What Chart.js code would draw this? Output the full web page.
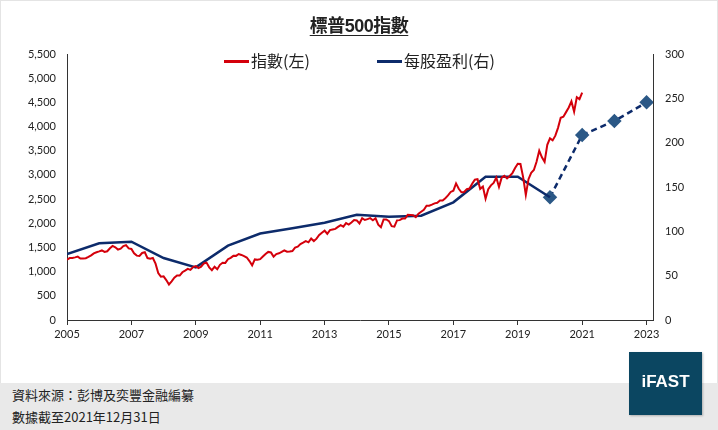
<!DOCTYPE html>
<html>
<head>
<meta charset="utf-8">
<script src="https://cdn.jsdelivr.net/npm/chart.js@4.4.1/dist/chart.umd.min.js"></script>
<style>
  body { margin: 0; width: 718px; height: 430px; overflow: hidden; background: #fff; position: relative;
         font-family: "Liberation Sans", "Noto Sans CJK TC", sans-serif; color: #222; }
  #frame { position: absolute; left: 0; top: 0; width: 716px; height: 428px; border: 1px solid #e4e4e4; border-bottom: none; }
  #title { position: absolute; left: 0; width: 718px; top: 11px; text-align: center; font-size: 18px; font-weight: bold;
           text-decoration: underline; text-underline-offset: 3px; letter-spacing: -0.5px; }
  #chartBox { position: absolute; left: 0; top: 0; width: 718px; height: 383px; }
  .leg { position: absolute; top: 50px; font-size: 16px; line-height: 20px; font-family: "Noto Sans CJK TC", sans-serif; }
  .leg i { display: inline-block; width: 25px; height: 3px; vertical-align: middle; margin-right: 2px; position: relative; top: -1px; }
  #footer { position: absolute; left: 0; top: 383px; width: 718px; height: 47px; background: #e9e9e9;
            font-family: "Noto Sans CJK TC", sans-serif; font-size: 13px; }
  #footer div { position: absolute; left: 12px; }
  #logo { position: absolute; left: 629px; top: 352px; width: 73px; height: 63px; background: #0b4661;
          color: #fff; font-family: "Liberation Sans", Arial, sans-serif; font-weight: bold; font-size: 17px;
          text-align: center; line-height: 60px; box-shadow: 1px 1px 2px rgba(0,0,0,0.25); }
</style>
</head>
<body>
<div id="frame"></div>
<div id="chartBox"><canvas id="spxChart" width="718" height="383"></canvas></div>
<div id="title">標普500指數</div>
<div class="leg" style="left:224px"><i style="background:#d4000b"></i>指數(左)</div>
<div class="leg" style="left:377px"><i style="background:#0d2b6b"></i>每股盈利(右)</div>
<div id="footer">
  <div style="top:2px">資料來源：彭博及奕豐金融編纂</div>
  <div style="top:24px">數據截至2021年12月31日</div>
</div>
<div id="logo">iFAST</div>
<script>
// S&P 500 index (left axis), month-end levels Dec 2005 .. Dec 2021.
// The first point sits on the "2005" tick, one point per month after that.
const SPX_START = 2005;
const spxMonthly = [
  1248,
  1280, 1281, 1295, 1311, 1270, 1270, 1277, 1304, 1336, 1378, 1401, 1418,
  1438, 1407, 1421, 1482, 1531, 1503, 1455, 1474, 1527, 1549, 1481, 1468,
  1379, 1331, 1323, 1386, 1400, 1280, 1267, 1283, 1166, 969, 896, 903,
  826, 735, 798, 873, 919, 919, 987, 1021, 1057, 1036, 1096, 1115,
  1074, 1104, 1169, 1187, 1089, 1031, 1102, 1049, 1141, 1183, 1181, 1258,
  1286, 1327, 1326, 1364, 1345, 1321, 1292, 1219, 1131, 1253, 1247, 1258,
  1312, 1366, 1408, 1398, 1310, 1362, 1379, 1407, 1441, 1412, 1416, 1426,
  1498, 1515, 1569, 1598, 1631, 1606, 1686, 1633, 1682, 1757, 1806, 1848,
  1783, 1859, 1872, 1884, 1924, 1960, 1931, 2003, 1972, 2018, 2068, 2059,
  1995, 2105, 2068, 2086, 2107, 2063, 2104, 1972, 1920, 2079, 2080, 2044,
  1940, 1932, 2060, 2065, 2097, 2099, 2174, 2171, 2168, 2126, 2199, 2239,
  2279, 2364, 2363, 2384, 2412, 2423, 2470, 2472, 2519, 2575, 2648, 2674,
  2824, 2714, 2641, 2648, 2705, 2718, 2816, 2902, 2914, 2712, 2760, 2507,
  2704, 2784, 2834, 2946, 2752, 2942, 2980, 2926, 2977, 3038, 3141, 3231,
  3226, 2954, 2585, 2912, 3044, 3100, 3271, 3500, 3363, 3270, 3622, 3756,
  3714, 3811, 3973, 4181, 4204, 4298, 4395, 4523, 4308, 4605, 4567, 4700
];

// EPS (right axis): actual, then estimates (dashed with markers)
const epsYears = [2005, 2006, 2007, 2008, 2009, 2010, 2011, 2012, 2013, 2014, 2015, 2016, 2017, 2018, 2019, 2020];
const epsValues = [74.4, 86.5, 88.3, 69.9, 59.4, 83.8, 97.5, 103.4, 109.7, 118.8, 116.5, 117.6, 132.7, 161.6, 161.6, 138.4];
const epsEstYears = [2020, 2021, 2022, 2023];
const epsEstValues = [138.4, 208.6, 224.4, 245.5];

const xTickYears = [2005, 2007, 2009, 2011, 2013, 2015, 2017, 2019, 2021, 2023];

const AXIS_COLOR = '#333';
const tickFont = { family: 'Lato, "Liberation Sans", sans-serif', size: 11 };

new Chart(document.getElementById('spxChart').getContext('2d'), {
  type: 'line',
  data: {
    datasets: [
      {
        label: '指數(左)',
        data: spxMonthly.map((v, i) => ({ x: SPX_START + i / 12, y: v })),
        borderColor: '#d4000b',
        borderWidth: 2,
        pointRadius: 0,
        tension: 0,
        yAxisID: 'y'
      },
      {
        label: '每股盈利(右)',
        data: epsYears.map((yr, i) => ({ x: yr, y: epsValues[i] })),
        borderColor: '#0d2b6b',
        borderWidth: 2.5,
        pointRadius: 0,
        tension: 0,
        yAxisID: 'y1'
      },
      {
        label: '每股盈利預測',
        data: epsEstYears.map((yr, i) => ({ x: yr, y: epsEstValues[i] })),
        borderColor: '#0d2b6b',
        borderWidth: 2.5,
        borderDash: [6, 4],
        pointStyle: 'rectRot',
        pointRadius: 5.5,
        pointBackgroundColor: '#2b5886',
        pointBorderColor: '#2b5886',
        tension: 0,
        yAxisID: 'y1'
      }
    ]
  },
  options: {
    responsive: false,
    animation: false,
    layout: { padding: { top: 54, left: 0, right: 0, bottom: 0 } },
    plugins: { legend: { display: false }, tooltip: { enabled: false } },
    scales: {
      x: {
        type: 'linear',
        min: 2005,
        max: 2023.2,
        afterBuildTicks: scale => { scale.ticks = xTickYears.map(v => ({ value: v })); },
        afterFit: scale => { scale.height = 63; },
        ticks: { color: '#222', font: tickFont, padding: 3, maxRotation: 0, callback: v => String(v) },
        grid: { drawOnChartArea: false, drawTicks: true, tickLength: 5, color: AXIS_COLOR },
        border: { display: true, color: AXIS_COLOR, width: 1 }
      },
      y: {
        position: 'left',
        min: 0,
        max: 5500,
        ticks: { stepSize: 500, color: '#222', font: tickFont, padding: 11,
                 callback: v => Number(v).toLocaleString('en-US') },
        afterFit: scale => { scale.width = 67; },
        grid: { display: false, drawTicks: false, tickLength: 0 },
        border: { display: true, color: AXIS_COLOR, width: 1 }
      },
      y1: {
        position: 'right',
        min: 0,
        max: 300,
        ticks: { stepSize: 50, color: '#222', font: tickFont, padding: 12 },
        afterFit: scale => { scale.width = 65; },
        grid: { display: false, drawTicks: false, tickLength: 0 },
        border: { display: true, color: AXIS_COLOR, width: 1 }
      }
    }
  }
});
</script>
</body>
</html>
